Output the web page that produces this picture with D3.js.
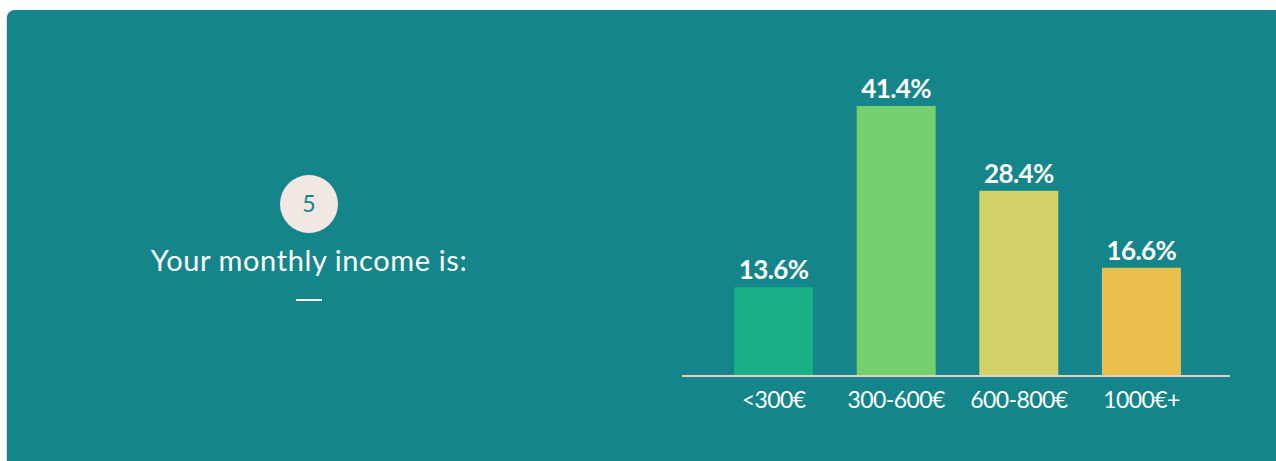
<!DOCTYPE html>
<html>
<head>
<meta charset="utf-8">
<script src="https://cdn.jsdelivr.net/npm/d3@7"></script>
<style>
  html, body { margin: 0; padding: 0; background: #ffffff; }
  svg { display: block; }
</style>
</head>
<body>
<script>
// Survey question 5: monthly income distribution
const categories = ["<300€", "300-600€", "600-800€", "1000€+"];
const shares = [13.6, 41.4, 28.4, 16.6];
const valueLabels = ["13.6%", "41.4%", "28.4%", "16.6%"];
const barColors = ["#19b088", "#74cf6d", "#d3d268", "#e8c04b"];
const questionNumber = "5";
const questionText = "Your monthly income is:";

const W = 1276, H = 461;
const teal = "#14858a";

const svg = d3.select("body").append("svg")
  .attr("width", W).attr("height", H);

// card background
svg.append("rect")
  .attr("x", 6).attr("y", 10).attr("width", W + 20).attr("height", H + 20)
  .attr("rx", 8).attr("fill", "#d9d9d9");
svg.append("rect")
  .attr("x", 7).attr("y", 10).attr("width", W + 20).attr("height", H + 20)
  .attr("rx", 8).attr("fill", teal);

// question block on the left
const qx = 309;
svg.append("circle")
  .attr("cx", qx).attr("cy", 204).attr("r", 29)
  .attr("fill", "#f1e8e4");
svg.append("text")
  .attr("x", qx).attr("y", 212)
  .attr("text-anchor", "middle")
  .attr("font-family", "Lato, sans-serif")
  .attr("font-size", 23)
  .attr("fill", teal)
  .text(questionNumber);
svg.append("text")
  .attr("x", qx).attr("y", 271)
  .attr("text-anchor", "middle")
  .attr("font-family", "Lato, sans-serif")
  .attr("font-size", 29)
  .attr("letter-spacing", 0.6)
  .attr("fill", "#ffffff")
  .text(questionText);
svg.append("line")
  .attr("x1", 296).attr("x2", 322)
  .attr("y1", 300).attr("y2", 300)
  .attr("stroke", "#ffffff").attr("stroke-width", 2);

// bar chart
const x0 = 682, x1 = 1230, baseY = 376;
const x = d3.scaleBand()
  .domain(categories)
  .range([x0 + 3, x1])
  .paddingInner(0.356)
  .paddingOuter(0.4);

const y = d3.scaleLinear()
  .domain([0, 41.4])
  .range([baseY, 106]);

const data = categories.map((c, i) => ({ c, v: shares[i], label: valueLabels[i], color: barColors[i] }));

svg.selectAll("rect.bar")
  .data(data)
  .join("rect")
  .attr("class", "bar")
  .attr("x", d => x(d.c))
  .attr("y", d => y(d.v))
  .attr("width", x.bandwidth())
  .attr("height", d => baseY - y(d.v))
  .attr("fill", d => d.color);

svg.selectAll("text.value")
  .data(data)
  .join("text")
  .attr("class", "value")
  .attr("x", d => x(d.c) + x.bandwidth() / 2)
  .attr("y", d => y(d.v) - 8)
  .attr("text-anchor", "middle")
  .attr("font-family", "Lato, sans-serif")
  .attr("font-weight", 700)
  .attr("font-size", 26)
  .attr("letter-spacing", -0.6)
  .attr("fill", "#ffffff")
  .text(d => d.label);

// baseline axis
const axis = svg.append("g")
  .attr("transform", `translate(0,${baseY})`)
  .call(d3.axisBottom(x).tickSize(0).tickPadding(16));
axis.select(".domain")
  .attr("d", `M${x0},0H${x1}`)
  .attr("stroke", "#ebcfc3")
  .attr("stroke-width", 2);
axis.selectAll(".tick text")
  .attr("font-family", "Lato, sans-serif")
  .attr("font-size", 23)
  .attr("letter-spacing", -0.6)
  .attr("fill", "#ffffff");
</script>
</body>
</html>
